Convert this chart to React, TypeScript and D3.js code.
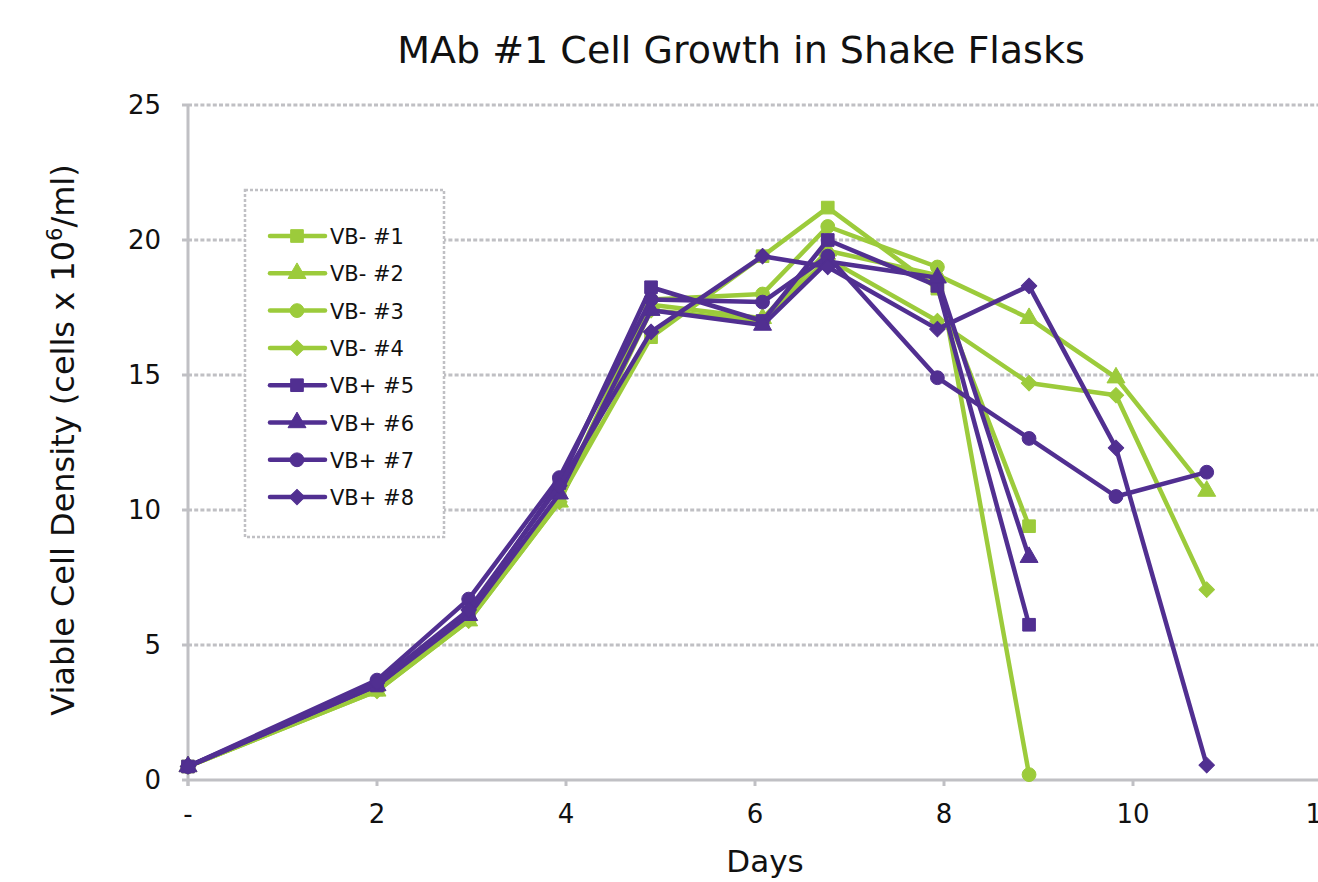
import React from "react";
import * as d3 from "d3";

const days = [0, 2, 2.97, 3.93, 4.9, 6.08, 6.77, 7.93, 8.9, 9.82, 10.78];

const seriesNames = ["VB- #1", "VB- #2", "VB- #3", "VB- #4", "VB+ #5", "VB+ #6", "VB+ #7", "VB+ #8"];

const vbMinus1 = [0.5, 3.35, 6.0, 10.4, 16.4, 19.4, 21.2, 18.2, 9.4];
const vbMinus2 = [0.5, 3.3, 5.9, 10.3, 17.6, 17.1, 19.6, 18.7, 17.1, 14.9, 10.7];
const vbMinus3 = [0.5, 3.4, 6.0, 10.5, 17.8, 18.0, 20.5, 19.0, 0.2];
const vbMinus4 = [0.5, 3.3, 5.9, 10.3, 17.4, 17.0, 19.3, 17.0, 14.7, 14.25, 7.05];
const vbPlus5 = [0.5, 3.5, 6.2, 11.0, 18.25, 17.0, 20.0, 18.3, 5.75];
const vbPlus6 = [0.5, 3.5, 6.1, 10.6, 17.4, 16.85, 19.2, 18.6, 8.25];
const vbPlus7 = [0.5, 3.7, 6.7, 11.2, 17.8, 17.7, 19.4, 14.9, 12.65, 10.5, 11.4];
const vbPlus8 = [0.5, 3.6, 6.3, 10.9, 16.6, 19.4, 19.0, 16.7, 18.3, 12.3, 0.55];

const seriesValues = [vbMinus1, vbMinus2, vbMinus3, vbMinus4, vbPlus5, vbPlus6, vbPlus7, vbPlus8];

const yTicks = [0, 5, 10, 15, 20, 25];
const xTicks = [0, 2, 4, 6, 8, 10, 12];
const xTickLabels = ["-", "2", "4", "6", "8", "10", "12"];

const GREEN = "#9ccb3b";
const PURPLE = "#512f91";
const GRID = "#c0c0c4";
const FONT = "DejaVu Sans, Verdana, sans-serif";

const shapes = ["square", "triangle", "circle", "diamond", "square", "triangle", "circle", "diamond"];

function markerPath(shape: string) {
  if (shape === "square") return { d: d3.symbol(d3.symbolSquare, 160)() as string, rot: 0 };
  if (shape === "triangle") return { d: d3.symbol(d3.symbolTriangle, 140)() as string, rot: 0 };
  if (shape === "circle") return { d: d3.symbol(d3.symbolCircle, 150)() as string, rot: 0 };
  return { d: d3.symbol(d3.symbolSquare, 120)() as string, rot: 45 };
}

export default function App() {
  const W = 1318;
  const H = 882;
  const x = d3.scaleLinear().domain([0, 12]).range([188, 1322]);
  const y = d3.scaleLinear().domain([0, 25]).range([780, 105]);
  const line = d3
    .line<[number, number]>()
    .x((d) => x(d[0]))
    .y((d) => y(d[1]));

  const series = seriesValues.map((vals, i) => ({
    name: seriesNames[i],
    color: i < 4 ? GREEN : PURPLE,
    shape: shapes[i],
    pts: vals.map((v, j) => [days[j], v] as [number, number]),
  }));

  const legendX = 245;
  const legendY = 190;
  const legendRow = 37.3;

  return (
    <svg
      width={W}
      height={H}
      style={{ position: "absolute", left: 0, top: 0, background: "#fff" }}
      fontFamily={FONT}
    >
      <rect x={0} y={0} width={W} height={H} fill="#fff" />
      {/* title */}
      <text x={741} y={63} textAnchor="middle" fontSize={38} fill="#111">
        MAb #1 Cell Growth in Shake Flasks
      </text>

      {/* gridlines */}
      {yTicks
        .filter((t) => t > 0)
        .map((t) => (
          <line
            key={"g" + t}
            x1={x(0)}
            x2={W}
            y1={y(t)}
            y2={y(t)}
            stroke={GRID}
            strokeWidth={3}
            strokeDasharray="4 2.2"
          />
        ))}

      {/* axes */}
      <line x1={x(0)} x2={x(0)} y1={y(25) - 1} y2={y(0) + 6} stroke={GRID} strokeWidth={3} />
      <line x1={x(0) - 1} x2={W} y1={y(0)} y2={y(0)} stroke={GRID} strokeWidth={3} />
      {yTicks.map((t) => (
        <line key={"yt" + t} x1={x(0) - 6} x2={x(0)} y1={y(t)} y2={y(t)} stroke={GRID} strokeWidth={3} />
      ))}
      {xTicks.map((t) => (
        <line key={"xt" + t} x1={x(t)} x2={x(t)} y1={y(0)} y2={y(0) + 6} stroke={GRID} strokeWidth={3} />
      ))}

      {/* tick labels */}
      {yTicks.map((t) => (
        <text key={"yl" + t} x={161} y={y(t) + 9} textAnchor="end" fontSize={26} fill="#111">
          {t}
        </text>
      ))}
      {xTicks.map((t, i) => (
        <text key={"xl" + t} x={x(t)} y={823} textAnchor="middle" fontSize={26} fill="#111">
          {xTickLabels[i]}
        </text>
      ))}

      {/* axis titles */}
      <text x={765} y={872} textAnchor="middle" fontSize={31} fill="#111">
        Days
      </text>
      <text
        transform={`translate(74, 440) rotate(-90)`}
        textAnchor="middle"
        fontSize={32}
        fill="#111"
      >
        Viable Cell Density (cells x 10
        <tspan dy={-12} fontSize={21}>
          6
        </tspan>
        <tspan dy={12}>/ml)</tspan>
      </text>

      {/* series */}
      {series.map((s) => {
        const m = markerPath(s.shape);
        return (
          <g key={s.name}>
            <path d={line(s.pts) || ""} fill="none" stroke={s.color} strokeWidth={4.5} strokeLinejoin="round" />
            {s.pts.map((p, j) => (
              <path
                key={j}
                d={m.d}
                transform={`translate(${x(p[0])},${y(p[1])}) rotate(${m.rot})`}
                fill={s.color}
                stroke={s.color}
                strokeWidth={1}
                strokeLinejoin="round"
              />
            ))}
          </g>
        );
      })}

      {/* legend */}
      <rect
        x={legendX}
        y={legendY}
        width={199}
        height={347}
        fill="#fff"
        stroke={GRID}
        strokeWidth={2.5}
        strokeDasharray="3 2"
      />
      {series.map((s, i) => {
        const m = markerPath(s.shape);
        const cy = 236 + i * legendRow;
        return (
          <g key={"lg" + s.name}>
            <line x1={270} x2={325} y1={cy} y2={cy} stroke={s.color} strokeWidth={4.5} strokeLinecap="round" />
            <path d={m.d} transform={`translate(297,${cy}) rotate(${m.rot})`} fill={s.color} stroke={s.color} />
            <text x={330} y={cy + 8} fontSize={21} fill="#111">
              {s.name}
            </text>
          </g>
        );
      })}
    </svg>
  );
}
